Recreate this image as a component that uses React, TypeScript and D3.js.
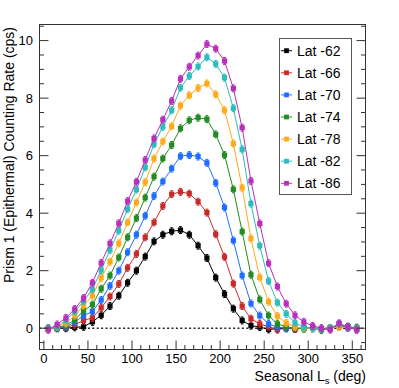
import * as React from "react";
import * as d3 from "d3";

// seasonal longitude of each bin (deg)
const LS_DEG = [5, 15, 25, 35, 45, 55, 65, 75, 85, 95, 105, 115, 125, 135, 145, 155, 165, 175,
  185, 195, 205, 215, 225, 235, 245, 255, 265, 275, 285, 295, 305, 315, 325, 335, 345, 355];

// counting rates (cps)
const LAT_62 = [-0.02, 0.0, 0.0, 0.03, 0.05, 0.22, 0.45, 0.77, 1.13, 1.58, 2.0, 2.49, 3.02, 3.25, 3.37, 3.41,
  3.25, 2.87, 2.44, 1.76, 1.19, 0.68, 0.27, 0.09, 0.04, -0.04, -0.02, 0.0, -0.03, 0.0, 0.02, -0.05, 0.0, 0.08, 0.05, 0.0];
const LAT_66 = [-0.03, 0.0, 0.03, 0.12, 0.27, 0.36, 0.71, 1.1, 1.54, 2.1, 2.58, 3.16, 3.68, 4.25, 4.66, 4.74,
  4.68, 4.4, 4.02, 3.27, 2.48, 1.55, 0.77, 0.33, 0.15, 0.05, -0.05, 0.0, -0.02, 0.0, 0.0, -0.03, 0.0, 0.06, 0.03, -0.02];
const LAT_70 = [-0.02, 0.0, 0.05, 0.21, 0.44, 0.58, 0.98, 1.47, 2.0, 2.64, 3.25, 3.91, 4.6, 5.1, 5.55, 5.98,
  6.02, 5.97, 5.75, 5.05, 4.2, 3.05, 1.83, 0.86, 0.44, 0.15, 0.04, 0.0, 0.02, 0.0, 0.0, -0.02, 0.0, 0.15, 0.05, 0.02];
const LAT_74 = [0.0, 0.02, 0.1, 0.29, 0.61, 0.82, 1.37, 1.83, 2.46, 3.16, 3.83, 4.54, 5.27, 5.9, 6.37, 6.95,
  7.23, 7.32, 7.27, 6.74, 6.02, 4.83, 3.36, 1.86, 1.0, 0.44, 0.15, 0.05, 0.0, -0.02, 0.0, -0.05, 0.0, 0.08, 0.02, 0.0];
const LAT_78 = [-0.05, 0.05, 0.17, 0.44, 0.79, 1.13, 1.75, 2.31, 2.95, 3.68, 4.37, 5.08, 5.9, 6.49, 7.02, 7.74,
  8.1, 8.35, 8.51, 8.13, 7.58, 6.42, 4.88, 3.12, 1.77, 0.92, 0.42, 0.18, 0.04, 0.0, 0.0, -0.03, 0.0, 0.05, 0.02, -0.02];
const LAT_82 = [-0.02, 0.05, 0.27, 0.58, 0.94, 1.35, 2.02, 2.72, 3.39, 4.14, 4.82, 5.59, 6.4, 7.0, 7.58, 8.36,
  8.77, 9.1, 9.42, 9.19, 8.71, 7.65, 6.22, 4.33, 2.87, 1.64, 0.89, 0.5, 0.19, 0.04, 0.0, -0.03, 0.0, 0.15, 0.0, -0.03];
const LAT_86 = [-0.05, 0.13, 0.36, 0.67, 1.05, 1.58, 2.27, 2.95, 3.65, 4.42, 5.09, 5.85, 6.6, 7.25, 7.9, 8.67,
  9.09, 9.48, 9.88, 9.72, 9.29, 8.34, 6.97, 5.12, 3.64, 2.26, 1.45, 0.85, 0.45, 0.22, 0.08, 0.0, -0.05, 0.17, 0.03, -0.06];

const LABELS = ["Lat -62", "Lat -66", "Lat -70", "Lat -74", "Lat -78", "Lat -82", "Lat -86"];
const COLORS = ["#000000", "#c82a2a", "#1f6dff", "#228b22", "#ffaa1a", "#2cbcbc", "#bb2dbb"];
const ERR = 0.12;

const X_TICKS = [0, 50, 100, 150, 200, 250, 300, 350];
const Y_TICKS = [0, 2, 4, 6, 8, 10];

const FONT = "'Liberation Sans', Arial, Helvetica, sans-serif";

export default function App() {
  const width = 399, height = 388;
  const x = d3.scaleLinear().domain([-5, 365]).range([39.5, 365.5]);
  const y = d3.scaleLinear().domain([-0.74, 10.56]).range([349.5, 24.5]);
  const [x0, x1] = x.range();
  const [y0, y1] = y.range();

  const series = [LAT_62, LAT_66, LAT_70, LAT_74, LAT_78, LAT_82, LAT_86].map((vals, i) => ({
    name: LABELS[i],
    color: COLORS[i],
    points: vals.map((v, j) => ({ ls: LS_DEG[j], v })),
  }));

  const line = d3.line<{ ls: number; v: number }>().x(d => x(d.ls)).y(d => y(d.v));

  const xMinor = d3.range(0, 361, 10).filter(d => d % 50 !== 0);
  const yMinor = d3.range(-0.5, 10.51, 0.5).filter(d => Math.abs(d % 2) > 0.01);

  const legX = 279.5, legY = 38.5, legW = 72, legH = 156;

  return (
    <div style={{ position: "absolute", left: 0, top: 0 }}>
      <svg width={width} height={height} style={{ display: "block", background: "#fff" }} fontFamily={FONT}>
        {/* zero line */}
        <line x1={x0} x2={x1} y1={y(0)} y2={y(0)} stroke="#222" strokeWidth={1.4} strokeDasharray="2,2.4" />

        {/* data */}
        {series.map(s => (
          <g key={s.name}>
            <path d={line(s.points) || ""} fill="none" stroke={s.color} strokeWidth={1} />
            {s.points.map(p => (
              <g key={p.ls} stroke={s.color} strokeWidth={1}>
                <line x1={x(p.ls)} x2={x(p.ls)} y1={y(p.v - ERR)} y2={y(p.v + ERR)} />
                <line x1={x(p.ls) - 1.5} x2={x(p.ls) + 1.5} y1={y(p.v - ERR)} y2={y(p.v - ERR)} />
                <line x1={x(p.ls) - 1.5} x2={x(p.ls) + 1.5} y1={y(p.v + ERR)} y2={y(p.v + ERR)} />
              </g>
            ))}
            {s.points.map(p => (
              <rect key={"m" + p.ls} x={x(p.ls) - 2.6} y={y(p.v) - 2.6} width={5.2} height={5.2} fill={s.color} />
            ))}
          </g>
        ))}

        {/* frame */}
        <rect x={x0} y={y1} width={x1 - x0} height={y0 - y1} fill="none" stroke="#333" strokeWidth={1} />

        {/* x ticks */}
        {X_TICKS.map(t => (
          <g key={"xt" + t}>
            <line x1={x(t)} x2={x(t)} y1={y0} y2={y0 - 9} stroke="#333" />
            <text x={x(t)} y={363} fontSize={13} textAnchor="middle" fill="#000">{t}</text>
          </g>
        ))}
        {xMinor.map(t => (
          <line key={"xm" + t} x1={x(t)} x2={x(t)} y1={y0} y2={y0 - 4.5} stroke="#333" />
        ))}

        {/* y ticks, left and right */}
        {Y_TICKS.map(t => (
          <g key={"yt" + t}>
            <line x1={x0} x2={x0 + 9} y1={y(t)} y2={y(t)} stroke="#333" />
            <line x1={x1} x2={x1 - 9} y1={y(t)} y2={y(t)} stroke="#333" />
            <text x={33} y={y(t)} dy="0.36em" fontSize={13} textAnchor="end" fill="#000">{t}</text>
          </g>
        ))}
        {yMinor.map(t => (
          <g key={"ym" + t}>
            <line x1={x0} x2={x0 + 4.5} y1={y(t)} y2={y(t)} stroke="#333" />
            <line x1={x1} x2={x1 - 4.5} y1={y(t)} y2={y(t)} stroke="#333" />
          </g>
        ))}

        {/* axis titles */}
        <text transform="rotate(-90)" x={-27} y={13.5} fontSize={14} textAnchor="end" fill="#000">
          Prism 1 (Epithermal) Counting Rate (cps)
        </text>
        <text x={366} y={381} fontSize={14} textAnchor="end" fill="#000">
          Seasonal L<tspan fontSize={9.5} dy={3}>s</tspan><tspan dy={-3}> (deg)</tspan>
        </text>

        {/* legend */}
        <rect x={legX} y={legY} width={legW} height={legH} fill="#fff" stroke="#555" strokeWidth={1} />
        {series.map((s, i) => {
          const cy = 50.7 + i * 22.1;
          return (
            <g key={"leg" + s.name}>
              <line x1={281} x2={292} y1={cy} y2={cy} stroke={s.color} strokeWidth={1} />
              <rect x={286.5 - 2.4} y={cy - 2.4} width={4.8} height={4.8} fill={s.color} />
              <text x={297} y={cy} dy="0.36em" fontSize={14} fill="#000">{s.name}</text>
            </g>
          );
        })}
      </svg>
    </div>
  );
}
